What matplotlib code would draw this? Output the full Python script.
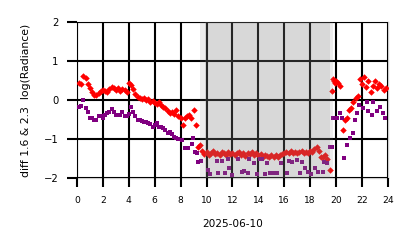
import matplotlib
matplotlib.use("Agg")
import matplotlib.pyplot as plt

# ---- data (hours of 2025-06-10, diff of log radiance) ----
red_t = [0.17, 0.33, 0.5, 0.67, 0.83, 1.0, 1.17, 1.33, 1.5, 1.67, 1.83,
         2.0, 2.17, 2.33, 2.5, 2.67, 2.83, 3.0, 3.17, 3.33, 3.5, 3.67, 3.83,
         4.0, 4.17, 4.33, 4.5, 4.67, 4.83, 5.0, 5.17, 5.33, 5.5, 5.67, 5.83,
         6.0, 6.17, 6.33, 6.5, 6.67, 6.83, 7.0, 7.17, 7.33, 7.5, 7.67, 7.83,
         8.0, 8.17, 8.33, 8.5, 8.67, 8.83, 9.0, 9.17, 9.33, 9.5, 9.67, 9.83,
         10.0, 10.17, 10.33, 10.5, 10.67, 10.83, 11.0, 11.17, 11.33, 11.5, 11.67, 11.83,
         12.0, 12.17, 12.33, 12.5, 12.67, 12.83, 13.0, 13.17, 13.33, 13.5, 13.67, 13.83,
         14.0, 14.17, 14.33, 14.5, 14.67, 14.83, 15.0, 15.17, 15.33, 15.5, 15.67, 15.83,
         16.0, 16.17, 16.33, 16.5, 16.67, 16.83, 17.0, 17.17, 17.33, 17.5, 17.67, 17.83,
         18.0, 18.17, 18.33, 18.5, 18.67, 18.83, 19.0, 19.17, 19.33, 19.5,
         19.67, 19.75, 19.83, 19.92, 20.0, 20.17, 20.33, 20.5, 20.67, 20.83,
         21.0, 21.17, 21.33, 21.5, 21.67, 21.83, 22.0, 22.17, 22.33, 22.5, 22.67, 22.83,
         23.0, 23.17, 23.33, 23.5, 23.67, 23.83]
red_v = [0.45, 0.42, 0.62, 0.56, 0.42, 0.3, 0.2, 0.14, 0.12, 0.17, 0.22,
         0.25, 0.22, 0.2, 0.28, 0.33, 0.3, 0.25, 0.3, 0.22, 0.28, 0.25, 0.2,
         0.45, 0.38, 0.28, 0.15, 0.08, 0.05, 0.02, 0.05, 0.0, 0.02, -0.05, -0.02,
         -0.08, -0.1, -0.05, -0.12, -0.18, -0.2, -0.28, -0.32, -0.3, -0.35, -0.25, -0.4,
         -0.45, -0.65, -0.45, -0.42, -0.38, -0.45, -0.25, -0.65, -1.2, -1.15, -1.3, -1.38,
         -1.33, -1.4, -1.36, -1.3, -1.38, -1.35, -1.42, -1.33, -1.37, -1.4, -1.34, -1.38,
         -1.35, -1.42, -1.36, -1.33, -1.4, -1.37, -1.43, -1.35, -1.38, -1.32, -1.4, -1.36,
         -1.42, -1.38, -1.45, -1.4, -1.44, -1.47, -1.42, -1.45, -1.4, -1.46, -1.41, -1.38,
         -1.36, -1.33, -1.35, -1.3, -1.36, -1.32, -1.37, -1.33, -1.3, -1.35, -1.32, -1.36,
         -1.3, -1.34, -1.25, -1.2, -1.3, -1.45, -1.46, -1.4, -1.5, -1.8,
         0.22, 0.55, 0.48, 0.45, 0.5, 0.45, 0.35, -0.77, -0.5, -0.45,
         -0.25, -0.2, -0.05, 0.05, 0.1, 0.55, 0.4, 0.6, 0.33, 0.5, 0.2, 0.35,
         0.5, 0.3, 0.42, 0.35, 0.25, 0.3]

purple_t = [0.17, 0.33, 0.5, 0.67, 0.83, 1.0, 1.17, 1.33, 1.5, 1.67, 1.83,
            2.0, 2.17, 2.33, 2.5, 2.67, 2.83, 3.0, 3.17, 3.33, 3.5, 3.67, 3.83,
            4.0, 4.17, 4.33, 4.5, 4.67, 4.83, 5.0, 5.17, 5.33, 5.5, 5.67, 5.83,
            6.0, 6.17, 6.33, 6.5, 6.67, 6.83, 7.0, 7.17, 7.33, 7.5, 7.67, 7.83,
            8.1, 8.3, 8.56, 8.87, 8.95, 9.1, 9.25, 9.35, 9.6,
            10.1, 10.3, 10.8, 10.9, 11.2, 11.4, 11.65, 11.7, 12.0, 12.4, 12.7, 12.9,
            13.2, 13.3, 13.65, 13.9, 14.1, 14.3, 14.5, 14.7, 14.9, 15.1, 15.4, 15.75,
            16.2, 16.4, 16.6, 17.0, 17.2, 17.4, 17.6, 17.8, 18.1, 18.4, 18.6, 19.0,
            19.05, 19.3, 19.5, 19.7,
            19.75, 20.05, 20.3, 20.45, 20.6, 20.83, 21.06, 21.3, 21.45, 21.6, 21.75,
            22.07, 22.37, 22.45, 22.76, 22.84, 23.15, 23.4, 23.6, 23.77]
purple_v = [-0.18, -0.15, 0.0, -0.2, -0.3, -0.45, -0.45, -0.5, -0.5, -0.42, -0.4,
            -0.45, -0.38, -0.32, -0.3, -0.23, -0.3, -0.38, -0.38, -0.38, -0.3, -0.4, -0.42,
            -0.35, -0.18, -0.3, -0.4, -0.5, -0.52, -0.53, -0.55, -0.57, -0.6, -0.62, -0.68,
            -0.65, -0.6, -0.68, -0.7, -0.72, -0.78, -0.85, -0.82, -0.88, -0.95, -0.97, -1.0,
            -1.03, -1.23, -1.23, -1.13, -0.97, -1.33, -1.37, -1.6, -1.55,
            -1.8, -1.9, -1.55, -1.88, -1.55, -1.87, -1.5, -1.75, -1.92, -1.5, -1.85, -1.82,
            -1.88, -1.5, -1.62, -1.9, -1.52, -1.52, -1.9, -1.62, -1.87, -1.87, -1.87, -1.62,
            -1.88, -1.57, -1.58, -1.53, -1.88, -1.6, -1.75, -1.85, -1.9, -1.75, -1.85, -1.85,
            -1.6, -1.62, -1.2, -1.2,
            -0.45, -0.45, -0.33, -0.45, -1.48, -1.15, -0.97, -0.85, -0.5, -0.33, -0.13,
            -0.2, -0.05, -0.27, -0.38, -0.05, -0.27, -0.18, -0.33, -0.45]

shade_outer = (9.5, 19.75)
shade_inner = (9.9, 19.5)
xticks = list(range(0, 25, 2))
yticks = [-2, -1, 0, 1, 2]

fig = plt.figure(figsize=(4.14, 2.48), dpi=100)
ax = fig.add_axes([0.186, 0.282, 0.751, 0.629])

ax.plot(red_t, red_v, linestyle='none', marker='D', markersize=3.3,
        color='#ff0000', markeredgewidth=0, zorder=3)
ax.plot(purple_t, purple_v, linestyle='none', marker='s', markersize=3.0,
        color='#800080', markeredgewidth=0, zorder=3)

ax.axvspan(*shade_outer, color='#808080', alpha=0.15, lw=0, zorder=4)
ax.axvspan(*shade_inner, color='#808080', alpha=0.18, lw=0, zorder=4)

ax.set_xlim(0, 24)
ax.set_ylim(-2, 2)
ax.set_xticks(xticks)
ax.set_yticks(yticks)
ax.grid(True, color='black', linewidth=1.5, zorder=5)
ax.set_axisbelow(False)
for s in ax.spines.values():
    s.set_color('#cccccc')
    s.set_linewidth(1.0)
ax.tick_params(axis='x', length=6.5, width=1.5, color='black', labelsize=6.6, pad=6.5)
ax.tick_params(axis='y', length=7.5, width=1.5, color='black', labelsize=7.2, pad=6)
ax.set_xlabel('2025-06-10', fontsize=7.6, labelpad=10)
ax.set_ylabel('diff 1.6 & 2.3  log(Radiance)', fontsize=7.8, labelpad=9)

fig.savefig('out.png', dpi=100)
